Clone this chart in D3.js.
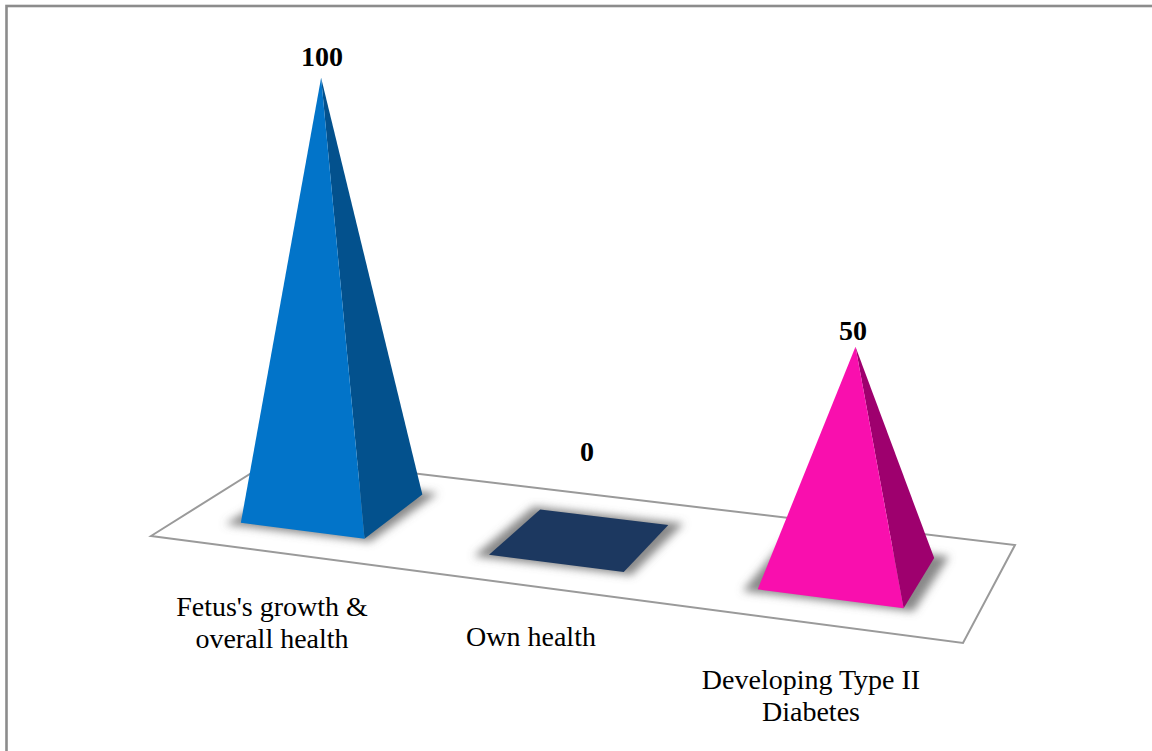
<!DOCTYPE html>
<html>
<head>
<meta charset="utf-8">
<script src="https://cdn.jsdelivr.net/npm/d3@7"></script>
<style>
  html, body { margin: 0; padding: 0; background: #fff; }
  svg { display: block; }
  text { font-family: "Liberation Serif", serif; fill: #000; }
</style>
</head>
<body>
<script>
// Survey results shown as pyramids standing on a tilted floor
const categories = ["Fetus's growth & overall health", "Own health", "Developing Type II Diabetes"];
const values = [100, 0, 50];
const frontColors = ["#0274c9", "#1c3860", "#f90fae"];
const sideColors = ["#03518d", "#1c3860", "#9e006e"];
const labelLines = [["Fetus's growth &", "overall health"], ["Own health"], ["Developing Type II", "Diabetes"]];

const width = 1152, height = 751;

// Corners of the floor: front-left, front-right, back-right, back-left
const floorCorners = [[151, 536], [963, 643], [1015, 545], [277, 457]];

// Footprint of each pyramid in floor coordinates (0..1 across, 0..1 in depth)
const across = d3.scaleOrdinal(categories, [[0.072, 0.228], [0.385, 0.555], [0.724, 0.908]]);
const depth = d3.scaleOrdinal(categories, [[0.26, 0.79], [0.26, 0.785], [0.26, 0.78]]);

// Pixel height of a value on the near-left part of the floor
const heightScale = d3.scaleLinear().domain([0, 100]).range([0, 431]);
// Perspective: height grows towards the right and verticals converge below the page
const growth = d3.scaleLinear().domain([331, 846]).range([1, 1.053]);
const vanishing = [521, 8300];

const labelPos = d3.scaleOrdinal(categories, [[272, 616], [531, 646], [811, 689]]);
const valuePos = d3.scaleOrdinal(categories, [[322, 66], [587, 461], [853, 340]]);

function floorPoint(u, v) {
  const [a, b, c, d] = floorCorners;
  const fx = a[0] + (b[0] - a[0]) * u, fy = a[1] + (b[1] - a[1]) * u;
  const bx = d[0] + (c[0] - d[0]) * u, by = d[1] + (c[1] - d[1]) * u;
  return [fx + (bx - fx) * v, fy + (by - fy) * v];
}

const path = pts => "M" + pts.map(p => p.join(",")).join("L") + "Z";

const svg = d3.select("body").append("svg").attr("width", width).attr("height", height);

const defs = svg.append("defs");
defs.append("filter").attr("id", "soft")
  .attr("x", "-30%").attr("y", "-30%").attr("width", "160%").attr("height", "160%")
  .append("feGaussianBlur").attr("stdDeviation", 4.5);

// Outer frame runs off the right and bottom of the page
svg.append("rect")
  .attr("x", 6.5).attr("y", 6).attr("width", 1200).attr("height", 800)
  .attr("fill", "#fff").attr("stroke", "#8c8c8c").attr("stroke-width", 2.6);

// Floor
svg.append("path").attr("d", path(floorCorners))
  .attr("fill", "#fff").attr("stroke", "#9a9a9a").attr("stroke-width", 2).attr("stroke-linejoin", "miter");

const items = categories.map((name, i) => {
  const [u0, u1] = across(name), [v0, v1] = depth(name);
  const fl = floorPoint(u0, v0), fr = floorPoint(u1, v0), br = floorPoint(u1, v1), bl = floorPoint(u0, v1);
  const cx = (fl[0] + br[0]) / 2, cy = (fl[1] + br[1]) / 2;
  const h = heightScale(values[i]) * growth(cx);
  const apex = [cx + h * (cx - vanishing[0]) / (vanishing[1] - cy), cy - h];
  return { name, i, fl, fr, br, bl, cx, cy, apex };
});

const marks = svg.append("g").selectAll("g").data(items).join("g");

// Soft contact shadow, wider than the base and only slightly taller
marks.append("path")
  .attr("d", d => path([d.fl, d.fr, d.br, d.bl].map(p => [
    d.cx + (p[0] - d.cx) * 1.17,
    d.cy + (p[1] - d.cy) * 1.1
  ])))
  .attr("fill", "#6a6a6a")
  .attr("fill-opacity", 0.8)
  .attr("filter", "url(#soft)");

// Visible faces; a zero value collapses to the flat base
marks.filter(d => values[d.i] === 0).append("path")
  .attr("d", d => path([d.fl, d.fr, d.br, d.bl]))
  .attr("fill", d => frontColors[d.i]);

const raised = marks.filter(d => values[d.i] > 0);
raised.append("path")
  .attr("d", d => path([d.fr, d.br, d.apex]))
  .attr("fill", d => sideColors[d.i]);
raised.append("path")
  .attr("d", d => path([d.fl, d.fr, d.apex]))
  .attr("fill", d => frontColors[d.i]);

// Value labels
svg.append("g").selectAll("text").data(items).join("text")
  .attr("x", d => valuePos(d.name)[0])
  .attr("y", d => valuePos(d.name)[1])
  .attr("text-anchor", "middle")
  .attr("font-size", 28)
  .attr("font-weight", "bold")
  .text(d => values[d.i]);

// Category labels
const cat = svg.append("g").selectAll("text").data(items).join("text")
  .attr("text-anchor", "middle")
  .attr("font-size", 28);
cat.selectAll("tspan").data(d => labelLines[d.i].map((line, k) => ({ line, k, name: d.name })))
  .join("tspan")
  .attr("x", d => labelPos(d.name)[0])
  .attr("y", d => labelPos(d.name)[1] + d.k * 31.5)
  .text(d => d.line);
</script>
</body>
</html>
